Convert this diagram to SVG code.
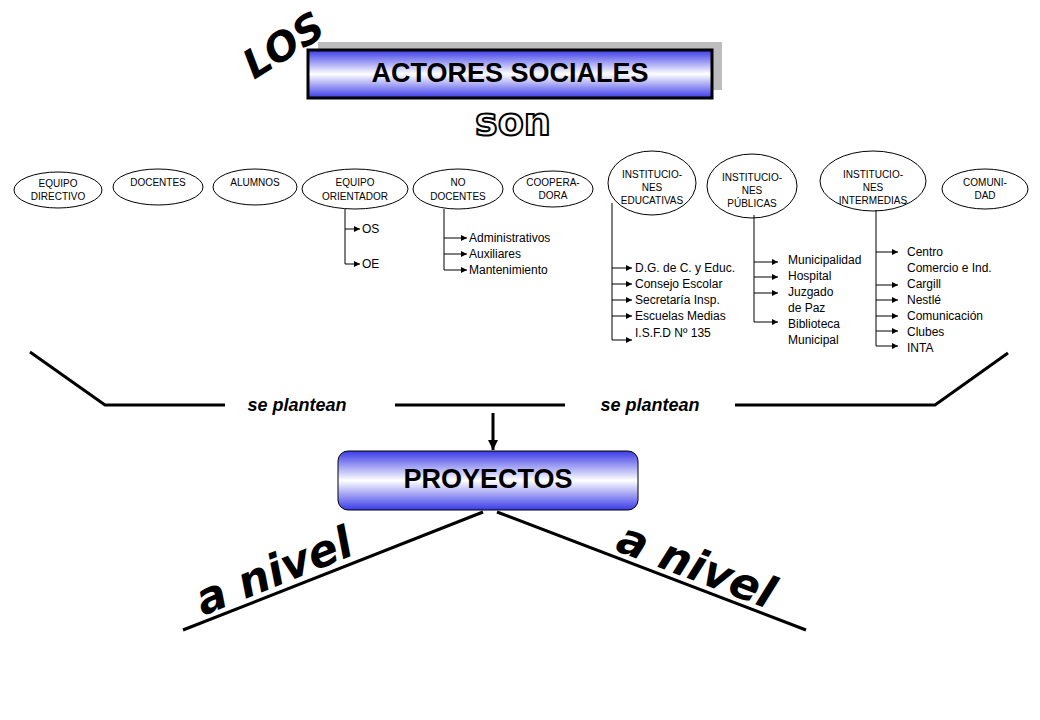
<svg xmlns="http://www.w3.org/2000/svg" width="1040" height="720" viewBox="0 0 1040 720">
<defs>
<linearGradient id="g" x1="0" y1="0" x2="0" y2="1">
<stop offset="0" stop-color="#3a3ae8"/><stop offset="0.5" stop-color="#ffffff"/><stop offset="1" stop-color="#3a3ae8"/>
</linearGradient>
<marker id="a" viewBox="0 0 10 10" refX="10" refY="5" markerWidth="8" markerHeight="6" orient="auto" markerUnits="userSpaceOnUse"><path d="M0,0L10,5L0,10z" fill="#000"/></marker>
<marker id="b" viewBox="0 0 10 10" refX="10" refY="5" markerWidth="10" markerHeight="10" orient="auto" markerUnits="userSpaceOnUse"><path d="M0,0L10,5L0,10z" fill="#000"/></marker>
</defs>
<style>
.e{fill:#fff;stroke:#000;stroke-width:1}
.t{font-family:"Liberation Sans",Arial,sans-serif;font-size:10px;text-anchor:middle;fill:#000}
.s{font-family:"Liberation Sans",Arial,sans-serif;font-size:12px;fill:#000}
.c{fill:none;stroke:#000;stroke-width:1}
.ar{stroke:#000;stroke-width:1;marker-end:url(#a)}
.k{stroke:#000;stroke-width:3;fill:none}
.big{font-family:"DejaVu Sans",Verdana,sans-serif;font-weight:bold;font-style:italic;font-size:44px;fill:#000}
</style>
<rect width="1040" height="720" fill="#fff"/>
<g id="titulo">
<rect x="318" y="42" width="404" height="48" fill="#bdbdbd"/>
<rect x="308" y="50" width="404" height="48" fill="url(#g)" stroke="#000" stroke-width="3"/>
<text x="510" y="82" text-anchor="middle" font-family="Liberation Sans,Arial,sans-serif" font-weight="bold" font-size="27">ACTORES SOCIALES</text>
<text transform="translate(254,80) rotate(-32)" font-family="DejaVu Sans,Verdana,sans-serif" font-weight="bold" font-style="italic" font-size="40">LOS</text>
<text x="513" y="135" text-anchor="middle" font-family="DejaVu Sans,Verdana,sans-serif" font-weight="bold" font-size="38" fill="#fff" stroke="#000" stroke-width="2">son</text>
</g>
<g id="n1"><ellipse class="e" cx="58" cy="190" rx="44" ry="18"/><text class="t" x="58" y="187">EQUIPO</text><text class="t" x="58" y="200">DIRECTIVO</text></g>
<g id="n2"><ellipse class="e" cx="158" cy="187" rx="45" ry="18"/><text class="t" x="158" y="186">DOCENTES</text></g>
<g id="n3"><ellipse class="e" cx="255" cy="187" rx="42" ry="18"/><text class="t" x="255" y="186">ALUMNOS</text></g>
<g id="n4"><ellipse class="e" cx="355" cy="189" rx="53" ry="20"/><text class="t" x="355" y="186">EQUIPO</text><text class="t" x="355" y="200">ORIENTADOR</text></g>
<g id="n5"><ellipse class="e" cx="458" cy="189" rx="45" ry="20"/><text class="t" x="458" y="186">NO</text><text class="t" x="458" y="200">DOCENTES</text></g>
<g id="n6"><ellipse class="e" cx="553" cy="189" rx="40" ry="18"/><text class="t" x="553" y="186">COOPERA-</text><text class="t" x="553" y="199">DORA</text></g>
<g id="n7"><ellipse class="e" cx="652" cy="183" rx="44" ry="32"/><text class="t" x="652" y="178">INSTITUCIO-</text><text class="t" x="652" y="191">NES</text><text class="t" x="652" y="204">EDUCATIVAS</text></g>
<g id="n8"><ellipse class="e" cx="752" cy="186" rx="45" ry="32"/><text class="t" x="752" y="181">INSTITUCIO-</text><text class="t" x="752" y="194">NES</text><text class="t" x="752" y="207">PÚBLICAS</text></g>
<g id="n9"><ellipse class="e" cx="873" cy="181" rx="53" ry="30"/><text class="t" x="873" y="178">INSTITUCIO-</text><text class="t" x="873" y="191">NES</text><text class="t" x="873" y="204">INTERMEDIAS</text></g>
<g id="n10"><ellipse class="e" cx="985" cy="189" rx="43" ry="20"/><text class="t" x="985" y="186">COMUNI-</text><text class="t" x="985" y="199">DAD</text></g>
<g id="subitems">
<text class="s" x="362" y="233">OS</text><text class="s" x="362" y="268">OE</text>
<text class="s" x="469" y="242">Administrativos</text><text class="s" x="469" y="258">Auxiliares</text><text class="s" x="469" y="274">Mantenimiento</text>
<text class="s" x="635" y="272">D.G. de C. y Educ.</text><text class="s" x="635" y="288">Consejo Escolar</text><text class="s" x="635" y="304">Secretaría Insp.</text><text class="s" x="635" y="320">Escuelas Medias</text><text class="s" x="635" y="337">I.S.F.D Nº 135</text>
<text class="s" x="788" y="264">Municipalidad</text><text class="s" x="788" y="280">Hospital</text><text class="s" x="788" y="296">Juzgado</text><text class="s" x="788" y="312">de Paz</text><text class="s" x="788" y="328">Biblioteca</text><text class="s" x="788" y="344">Municipal</text>
<text class="s" x="907" y="256">Centro</text><text class="s" x="907" y="272">Comercio e Ind.</text><text class="s" x="907" y="288">Cargill</text><text class="s" x="907" y="304">Nestlé</text><text class="s" x="907" y="320">Comunicación</text><text class="s" x="907" y="336">Clubes</text><text class="s" x="907" y="352">INTA</text>
</g>
<g id="proyectos">
<rect x="338" y="451" width="300" height="59" rx="10" fill="url(#g)" stroke="#000" stroke-width="1"/>
<text x="488" y="488" text-anchor="middle" font-family="Liberation Sans,Arial,sans-serif" font-weight="bold" font-size="27">PROYECTOS</text>
</g>
<g id="connectors">
<path class="c" d="M345,209V264"/><line class="ar" x1="345" y1="229" x2="360" y2="229"/><line class="ar" x1="345" y1="264" x2="360" y2="264"/>
<path class="c" d="M444,209V270"/><line class="ar" x1="444" y1="238" x2="467" y2="238"/><line class="ar" x1="444" y1="254" x2="467" y2="254"/><line class="ar" x1="444" y1="270" x2="467" y2="270"/>
<path class="c" d="M612,203V340"/><line class="ar" x1="612" y1="268" x2="632" y2="268"/><line class="ar" x1="612" y1="284" x2="632" y2="284"/><line class="ar" x1="612" y1="300" x2="632" y2="300"/><line class="ar" x1="612" y1="316" x2="632" y2="316"/><line class="ar" x1="612" y1="340" x2="632" y2="340"/>
<path class="c" d="M754,215V322"/><line class="ar" x1="754" y1="262" x2="778" y2="262"/><line class="ar" x1="754" y1="277" x2="778" y2="277"/><line class="ar" x1="754" y1="293" x2="778" y2="293"/><line class="ar" x1="754" y1="322" x2="778" y2="322"/>
<path class="c" d="M876,210V346"/><line class="ar" x1="876" y1="252" x2="898" y2="252"/><line class="ar" x1="876" y1="285" x2="898" y2="285"/><line class="ar" x1="876" y1="300" x2="898" y2="300"/><line class="ar" x1="876" y1="316" x2="898" y2="316"/><line class="ar" x1="876" y1="331" x2="898" y2="331"/><line class="ar" x1="876" y1="346" x2="898" y2="346"/>
<path class="k" d="M30,352L105,405H225"/><path class="k" d="M395,405H565"/><path class="k" d="M735,405H935L1008,353"/>
<text x="297" y="411" text-anchor="middle" font-family="Liberation Sans,Arial,sans-serif" font-weight="bold" font-style="italic" font-size="18">se plantean</text>
<text x="650" y="411" text-anchor="middle" font-family="Liberation Sans,Arial,sans-serif" font-weight="bold" font-style="italic" font-size="18">se plantean</text>
<line x1="493" y1="413" x2="493" y2="450" stroke="#000" stroke-width="3" marker-end="url(#b)"/>
<path class="k" d="M483,512L183,630"/><path class="k" d="M497,512L806,630"/>
<text class="big" transform="translate(203,616) rotate(-22)">a nivel</text>
<text class="big" transform="translate(614,550) rotate(21)">a nivel</text>
</g>
</svg>
